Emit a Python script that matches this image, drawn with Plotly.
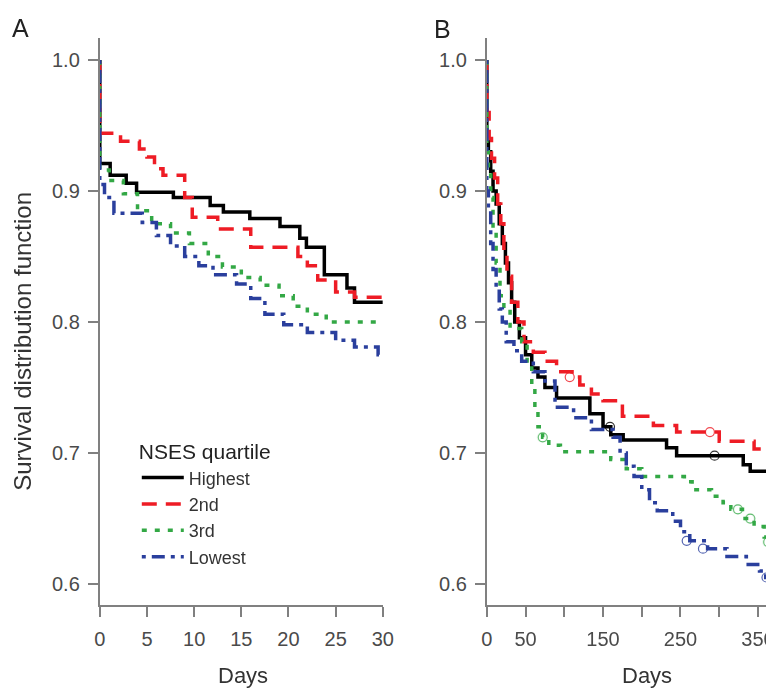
import plotly.graph_objects as go

# ---------------- Data ----------------
series_names = ["Highest", "2nd", "3rd", "Lowest"]
series_colors = ["#000000", "#ee1c25", "#33a845", "#2a3f9d"]
series_dash = ["solid", "15px,9px", "5px,8px", "4px,6px,13px,6px"]

# Panel A: 30-day survival (step functions, value holds from each time)
a_high_t = [0, 0, 1.1, 2.8, 3.9, 7.8, 11.7, 13.1, 15.9, 19.1, 21.2, 21.9, 23.8, 26.2, 27.0, 30]
a_high_s = [1.0, 0.921, 0.912, 0.906, 0.899, 0.895, 0.889, 0.884, 0.879, 0.873, 0.864, 0.857, 0.836, 0.826, 0.815, 0.815]

a_2nd_t = [0, 0, 2.2, 4.2, 5.0, 5.8, 6.7, 9.0, 9.8, 12.5, 16.0, 21.0, 22.0, 23.1, 25.0, 27.0, 30]
a_2nd_s = [1.0, 0.944, 0.938, 0.932, 0.926, 0.917, 0.912, 0.895, 0.880, 0.871, 0.857, 0.850, 0.843, 0.832, 0.823, 0.819, 0.819]

a_3rd_t = [0, 0, 1.0, 2.5, 4.0, 5.5, 7.5, 9.5, 11.5, 13.0, 15.0, 17.0, 19.0, 20.5, 22.0, 24.0, 30]
a_3rd_s = [1.0, 0.916, 0.908, 0.898, 0.885, 0.875, 0.868, 0.860, 0.850, 0.842, 0.834, 0.828, 0.820, 0.812, 0.806, 0.800, 0.800]

a_low_t = [0, 0, 0.5, 1.5, 4.5, 6.0, 7.5, 9.0, 10.5, 12.0, 14.5, 16.0, 17.5, 19.5, 22.0, 25.0, 27.0, 29.5, 30]
a_low_s = [1.0, 0.905, 0.895, 0.883, 0.876, 0.866, 0.858, 0.850, 0.843, 0.836, 0.829, 0.818, 0.806, 0.798, 0.792, 0.786, 0.781, 0.775, 0.775]

# Panel B: one-year survival
b_high_t = [0, 0, 2, 5, 8, 12, 16, 20, 24, 28, 32, 36, 42, 50, 58, 66, 75, 90, 133, 150, 160, 176, 232, 245, 331, 340, 371]
b_high_s = [1.0, 0.945, 0.93, 0.915, 0.90, 0.89, 0.875, 0.86, 0.845, 0.83, 0.815, 0.80, 0.788, 0.775, 0.765, 0.758, 0.750, 0.742, 0.730, 0.720, 0.714, 0.710, 0.704, 0.698, 0.691, 0.686, 0.686]

b_2nd_t = [0, 0, 3, 6, 10, 14, 18, 22, 26, 32, 40, 48, 60, 75, 90, 110, 120, 135, 150, 175, 215, 245, 300, 345, 371]
b_2nd_s = [1.0, 0.96, 0.94, 0.925, 0.91, 0.89, 0.875, 0.855, 0.835, 0.815, 0.80, 0.785, 0.777, 0.770, 0.762, 0.758, 0.752, 0.745, 0.740, 0.728, 0.721, 0.716, 0.709, 0.703, 0.703]

b_3rd_t = [0, 0, 2, 5, 8, 12, 17, 22, 30, 45, 52, 58, 62, 66, 72, 80, 95, 160, 180, 200, 255, 265, 290, 305, 315, 330, 345, 358, 371]
b_3rd_s = [1.0, 0.93, 0.915, 0.895, 0.87, 0.845, 0.82, 0.81, 0.795, 0.785, 0.765, 0.75, 0.735, 0.72, 0.712, 0.706, 0.701, 0.695, 0.688, 0.682, 0.678, 0.672, 0.667, 0.662, 0.657, 0.650, 0.644, 0.636, 0.632]

b_low_t = [0, 0, 2, 5, 8, 12, 16, 20, 25, 35, 45, 60, 75, 88, 112, 135, 163, 172, 180, 190, 200, 210, 220, 240, 250, 262, 285, 310, 335, 352, 360, 371]
b_low_s = [1.0, 0.90, 0.885, 0.86, 0.84, 0.825, 0.81, 0.80, 0.785, 0.778, 0.770, 0.762, 0.755, 0.735, 0.727, 0.718, 0.712, 0.700, 0.690, 0.682, 0.672, 0.662, 0.656, 0.648, 0.640, 0.633, 0.627, 0.621, 0.615, 0.610, 0.605, 0.605]

# Censoring marks (open circles) in panel B
b_cens_t = [[294, 159], [107, 288, 368], [72, 324, 340, 363], [258, 279, 361]]
b_cens_s = [[0.698, 0.720], [0.758, 0.716, 0.703], [0.712, 0.657, 0.650, 0.632], [0.633, 0.627, 0.605]]

a_xticks = [0, 5, 10, 15, 20, 25, 30]
b_xticks = [0, 50, 100, 150, 200, 250, 300, 350]
b_xticklabels = ["0", "50", "", "150", "", "250", "", "350"]
yticks = [0.6, 0.7, 0.8, 0.9, 1.0]
yticklabels = ["0.6", "0.7", "0.8", "0.9", "1.0"]

panel_a = [(a_high_t, a_high_s), (a_2nd_t, a_2nd_s), (a_3rd_t, a_3rd_s), (a_low_t, a_low_s)]
panel_b = [(b_high_t, b_high_s), (b_2nd_t, b_2nd_s), (b_3rd_t, b_3rd_s), (b_low_t, b_low_s)]

# ---------------- Figure ----------------
OFF = 8  # page body margin
SX, BX = 0.978, 6.4  # observed horizontal squeeze of the photographed page
W = int(round((774 - BX) / SX - OFF))
H = 688 - OFF
FONT = "Liberation Sans, Arial, Helvetica, sans-serif"
TICKC = "#4a4a4a"
AXC = "#808080"


def px(x):
    return ((x - BX) / SX - OFF) / W


def py(y):
    return 1 - (y - OFF) / H


fig = go.Figure()

for i, (t, s) in enumerate(panel_a):
    fig.add_trace(go.Scatter(
        x=t, y=s, mode="lines", name=series_names[i],
        line=dict(color=series_colors[i], width=3.5, dash=series_dash[i], shape="hv"),
        xaxis="x", yaxis="y", showlegend=True))

for i, (t, s) in enumerate(panel_b):
    fig.add_trace(go.Scatter(
        x=t, y=s, mode="lines", name=series_names[i],
        line=dict(color=series_colors[i], width=3.5, dash=series_dash[i], shape="hv"),
        xaxis="x2", yaxis="y2", showlegend=False))
    fig.add_trace(go.Scatter(
        x=b_cens_t[i], y=b_cens_s[i], mode="markers", name=series_names[i],
        marker=dict(symbol="circle-open", size=9, color=series_colors[i], line=dict(width=1.2)),
        xaxis="x2", yaxis="y2", showlegend=False, opacity=0.8))

ybot, ytop = 0.584, 1.0168
ydom = [py(605), py(38)]

axis_common = dict(
    showline=True, linecolor=AXC, linewidth=2, mirror=False,
    ticks="outside", ticklen=10, tickwidth=1.5, tickcolor=AXC,
    showgrid=False, zeroline=False,
    tickfont=dict(family=FONT, size=20, color=TICKC),
)

fig.update_layout(
    width=W, height=H,
    margin=dict(l=0, r=0, t=0, b=0),
    paper_bgcolor="white", plot_bgcolor="white",
    font=dict(family=FONT, color="#333333"),
    xaxis=dict(domain=[px(100), px(383)], range=[0, 30], anchor="y",
               tickmode="array", tickvals=a_xticks, ticklabelstandoff=5, **axis_common),
    yaxis=dict(domain=ydom, range=[ybot, ytop], anchor="x",
               tickmode="array", tickvals=yticks, ticktext=yticklabels,
               ticklabelstandoff=4, **axis_common),
    xaxis2=dict(domain=[px(487), 1.0], range=[0, 370.7], anchor="y2",
                tickmode="array", tickvals=b_xticks, ticktext=b_xticklabels,
                ticklabelstandoff=5, **axis_common),
    yaxis2=dict(domain=ydom, range=[ybot, ytop], anchor="x2",
                tickmode="array", tickvals=yticks, ticktext=yticklabels,
                ticklabelstandoff=4, **axis_common),
    legend=dict(
        x=px(137), y=py(432), xanchor="left", yanchor="top",
        bgcolor="rgba(0,0,0,0)", borderwidth=0,
        font=dict(family=FONT, size=18, color="#333333"),
        title=dict(text="NSES quartile", font=dict(family=FONT, size=21, color="#222222")),
        itemwidth=42, tracegroupgap=0,
    ),
    showlegend=True,
)

annotations = [
    dict(text="A", x=px(21), y=py(28), xref="paper", yref="paper",
         xanchor="center", yanchor="middle",
         showarrow=False, font=dict(family=FONT, size=25, color="#222222")),
    dict(text="B", x=px(443), y=py(29), xref="paper", yref="paper",
         xanchor="center", yanchor="middle",
         showarrow=False, font=dict(family=FONT, size=25, color="#222222")),
    dict(text="Days", x=px(243), y=py(675), xref="paper", yref="paper",
         xanchor="center", yanchor="middle",
         showarrow=False, font=dict(family=FONT, size=22, color="#333333")),
    dict(text="Days", x=px(647), y=py(675), xref="paper", yref="paper",
         xanchor="center", yanchor="middle",
         showarrow=False, font=dict(family=FONT, size=22, color="#333333")),
    dict(text="Survival distribution function", x=px(22), y=py(341),
         xref="paper", yref="paper", textangle=-90, showarrow=False,
         xanchor="center", yanchor="middle",
         font=dict(family=FONT, size=24, color="#333333")),
]
fig.update_layout(annotations=annotations)

fig.write_html("out.html")
